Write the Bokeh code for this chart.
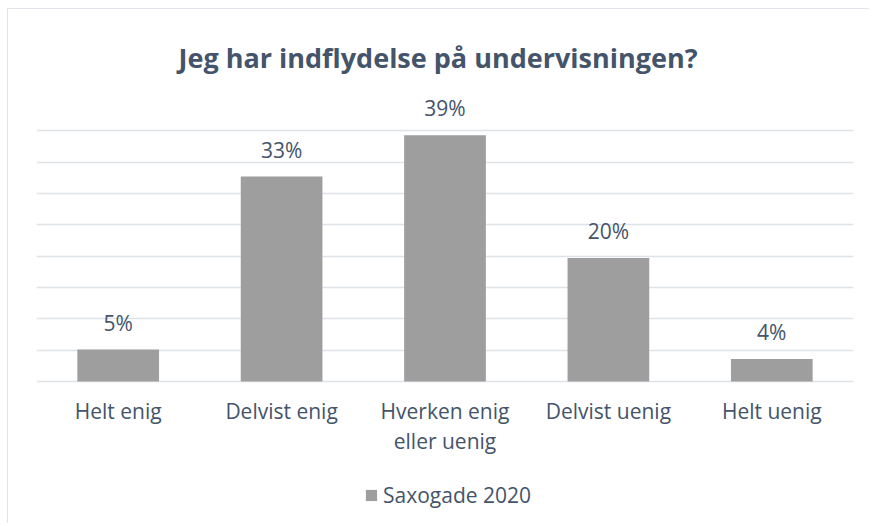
from bokeh.plotting import figure
from bokeh.models import ColumnDataSource, FactorRange, FixedTicker, Legend, LegendItem, Range1d
from bokeh.core.properties import value
from bokeh.embed import file_html
from bokeh.resources import INLINE

categories = ["Helt enig", "Delvist enig", "Hverken enig\neller uenig", "Delvist uenig", "Helt uenig"]
values = [0.051, 0.327, 0.393, 0.197, 0.036]
value_labels = ["5%", "33%", "39%", "20%", "4%"]
series_name = "Saxogade 2020"
title_text = "Jeg har indflydelse på undervisningen?"
grid_ticks = [0.0, 0.05, 0.10, 0.15, 0.20, 0.25, 0.30, 0.35, 0.40, 0.45]

TEXT = "#44546A"
FONT = "Open Sans"

# plot area: 282 px for the 0..45 % band, 143 px below it for category labels and legend
Y_MAX = 0.45
Y_MIN = -Y_MAX * 143 / 282

src = ColumnDataSource(dict(cat=categories, val=values, lab=value_labels,
                            base=[0.0] * len(categories)))

p = figure(x_range=FactorRange(*categories, range_padding=0), y_range=Range1d(Y_MIN, Y_MAX),
           width=862, height=515, output_backend="svg", toolbar_location=None,
           min_border_left=28, min_border_right=17, min_border_top=90, min_border_bottom=0)
p.styles = {"margin-left": "7px", "margin-top": "8px",
            "border-top": "1px solid #e0e4ea", "border-left": "1px solid #e0e4ea"}

p.title.text = title_text
p.title.align = "left"
p.title.offset = 142
p.title.text_font = FONT
p.title.text_font_size = "27px"
p.title.text_font_style = "bold"
p.title.text_color = TEXT
p.title.standoff = 48

r = p.vbar(x="cat", top="val", width=0.5, source=src, fill_color="#9e9e9e", line_color=None)

# value labels above bars
p.text(x="cat", y="val", text="lab", source=src, text_align="center", text_baseline="alphabetic",
       y_offset=-27, text_font=value(FONT), text_font_size="21px", text_color=TEXT)

# category labels under the baseline
p.text(x="cat", y="base", text="cat", source=src, text_align="center", text_baseline="top",
       y_offset=15, text_font=value(FONT), text_font_size="21px", text_color=TEXT,
       text_line_height=1.1)

p.outline_line_color = None
p.xgrid.grid_line_color = None
p.ygrid.grid_line_color = "#dfe3e8"
p.ygrid.grid_line_width = 1.5
p.yaxis.ticker = FixedTicker(ticks=grid_ticks)
p.yaxis.visible = False
p.xaxis.visible = False

legend = Legend(items=[LegendItem(label=series_name, renderers=[r])], location=(328, 15),
                orientation="horizontal", label_text_font=FONT, label_text_font_size="21px",
                label_text_color=TEXT, glyph_width=14, glyph_height=14, label_height=14,
                label_standoff=5, padding=0, margin=0, border_line_color=None,
                background_fill_alpha=0)
p.add_layout(legend, "center")

open("out.html", "w").write(file_html(p, INLINE))
